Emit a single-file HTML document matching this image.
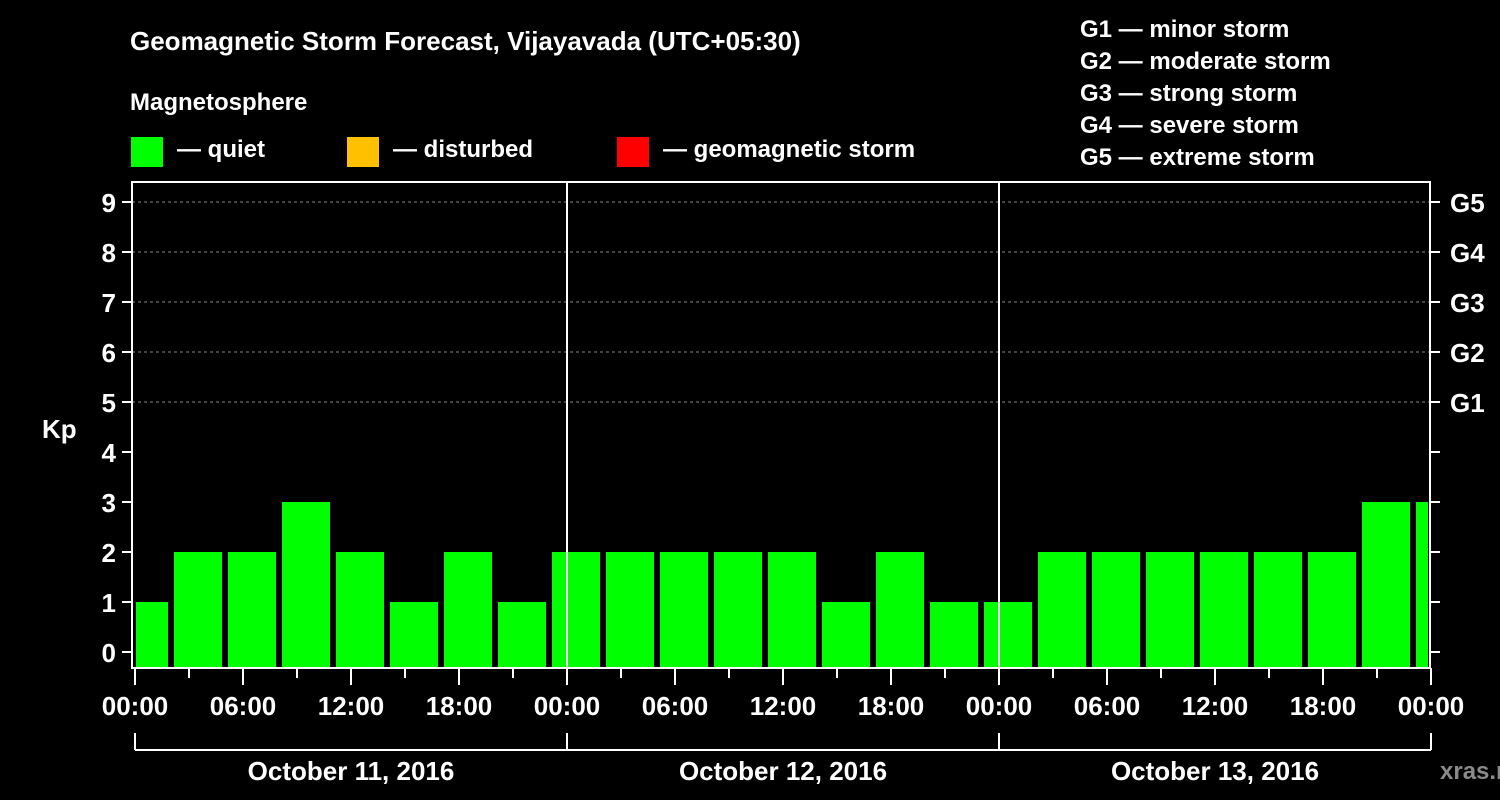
<!DOCTYPE html>
<html><head><meta charset="utf-8"><style>
html,body{margin:0;padding:0;background:#000;width:1500px;height:800px;overflow:hidden}
svg{display:block}
text{font-family:"Liberation Sans",Arial,sans-serif;font-weight:bold;fill:#fff}
</style></head><body>
<svg id="chart" width="1500" height="800">
<text x="130" y="50" font-size="26">Geomagnetic Storm Forecast, Vijayavada (UTC+05:30)</text>
<text x="130" y="110" font-size="24">Magnetosphere</text>
<g><rect x="131" y="137" width="32" height="30" fill="#00ff00"/><text x="177" y="157" font-size="24">— quiet</text></g>
<g><rect x="347" y="137" width="32" height="30" fill="#ffc000"/><text x="393" y="157" font-size="24">— disturbed</text></g>
<g><rect x="617" y="137" width="32" height="30" fill="#ff0000"/><text x="663" y="157" font-size="24">— geomagnetic storm</text></g>
<g font-size="24">
<text x="1080" y="37">G1 — minor storm</text>
<text x="1080" y="69">G2 — moderate storm</text>
<text x="1080" y="101">G3 — strong storm</text>
<text x="1080" y="133">G4 — severe storm</text>
<text x="1080" y="165">G5 — extreme storm</text>
</g>
<text x="42" y="438" font-size="26">Kp</text>
<text x="1440" y="779" font-size="24" fill="#888" style="fill:#8a8a8a">xras.ru</text>
<g id="grid"></g><g id="bars"></g><g id="axes"></g>
</svg>
<script>
const kpValues=[1,2,2,3,2,1,2,1,2,2,2,2,2,1,2,1,1,2,2,2,2,2,2,3,3];
const yTicks=[0,1,2,3,4,5,6,7,8,9];
const gLabels=['G1','G2','G3','G4','G5'];
const gLevels=[5,6,7,8,9];
const hourLabels=['00:00','06:00','12:00','18:00'];
const dayLabels=['October 11, 2016','October 12, 2016','October 13, 2016'];
const NS='http://www.w3.org/2000/svg';
const L=132,R=1430,T=182,B=668,X0=135,DAY=432;
const y=k=>652-50*k;
const xh=h=>X0+h*DAY/24; // hours from start
function mk(tag,attrs,parent){const e=document.createElementNS(NS,tag);for(const k in attrs)e.setAttribute(k,attrs[k]);parent.appendChild(e);return e;}
const grid=document.getElementById('grid'),bars=document.getElementById('bars'),axes=document.getElementById('axes');
gLevels.forEach((g,i)=>{
  const l=mk('line',{x1:L,x2:R,y1:y(g),y2:y(g),stroke:'#888','stroke-dasharray':'3,3','stroke-width':1},grid);
  
  
  const t=mk('text',{x:1450,y:y(g)+10,'font-size':26},axes);t.textContent=gLabels[i];
  
  
});
kpValues.forEach((v,i)=>{
  let x1=xh(-1+3*i)+3-X0+X0-3+3; // interval start
  x1=X0-15+54*i; let x2=x1+48;
  x1=Math.max(x1,136); x2=Math.min(x2,1428);
  const r=mk('rect',{x:x1,y:y(v),width:x2-x1,height:B-1-y(v),fill:'#00ff00'},bars);
  
  
});
// frame
const f=mk('rect',{x:L,y:T,width:R-L,height:B-T,fill:'none',stroke:'#fff','stroke-width':2},axes);


[1,2].forEach(d=>{const l=mk('line',{x1:xh(24*d),x2:xh(24*d),y1:T,y2:B,stroke:'#fff','stroke-width':2},axes);
  
  });
yTicks.forEach(k=>{
  mk('line',{x1:122,x2:L,y1:y(k),y2:y(k),stroke:'#fff','stroke-width':2},axes);
  mk('line',{x1:R,x2:1440,y1:y(k),y2:y(k),stroke:'#fff','stroke-width':2},axes);
  const t=mk('text',{x:116,y:y(k)+10,'font-size':26,'text-anchor':'end'},axes);t.textContent=k;
  
  
});
for(let h=0;h<=72;h+=3){
  mk('line',{x1:xh(h),x2:xh(h),y1:B,y2:(h%6==0)?685:678,stroke:'#fff','stroke-width':2},axes);
  if(h%6==0){const t=mk('text',{x:xh(h),y:715,'font-size':26,'text-anchor':'middle'},axes);t.textContent=hourLabels[(h/6)%4];
    
    }
}
dayLabels.forEach((d,i)=>{
  const a=xh(24*i),b=xh(24*(i+1));
  mk('line',{x1:a,x2:b,y1:750,y2:750,stroke:'#fff','stroke-width':2},axes);
  mk('line',{x1:a,x2:a,y1:733,y2:750,stroke:'#fff','stroke-width':2},axes);
  mk('line',{x1:b,x2:b,y1:733,y2:750,stroke:'#fff','stroke-width':2},axes);
  const t=mk('text',{x:(a+b)/2,y:780,'font-size':26,'text-anchor':'middle'},axes);t.textContent=d;
  
  
});
</script>
</body></html>
